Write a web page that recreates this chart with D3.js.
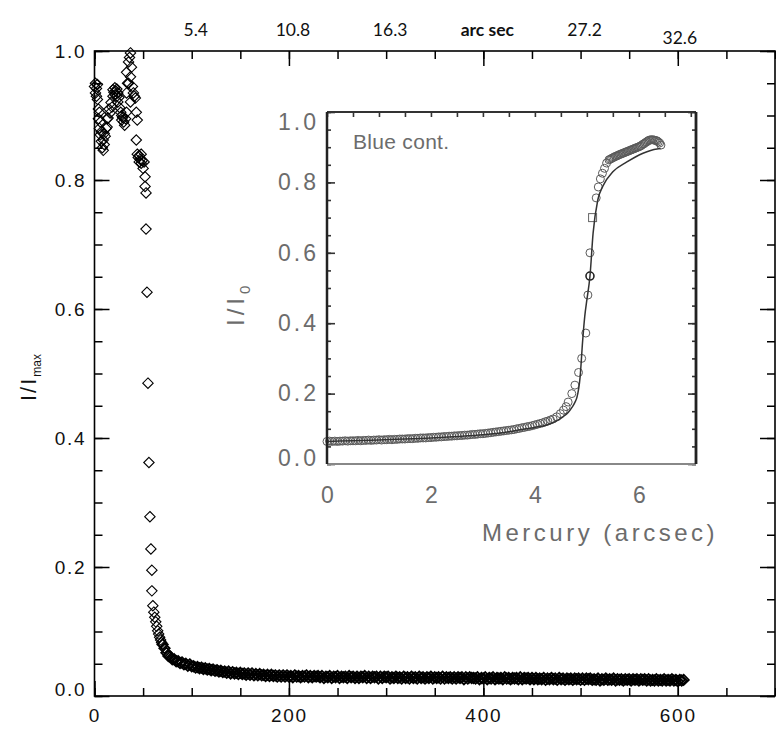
<!DOCTYPE html>
<html>
<head>
<meta charset="utf-8">
<script src="https://cdn.jsdelivr.net/npm/d3@7"></script>
<style>
  body { margin: 0; background: #fff; }
</style>
</head>
<body>
<svg id="chart" width="776" height="734"></svg>
<script>
// ---- main plot data (x in pixels, I/Imax) ----
// scattered disk points + the drop at the limb
var earlyPts = [
  [0,.945],[1,.950],[1,.935],[2,.942],[2,.930],[3,.948],[3,.925],[4,.910],[4,.895],[5,.905],
  [5,.880],[6,.870],[6,.890],[7,.860],[7,.875],[8,.850],[9,.846],[9,.862],[10,.855],[10,.872],
  [11,.868],[12,.880],[13,.882],[13,.895],[14,.896],[15,.910],[16,.904],[17,.920],[18,.913],[19,.930],
  [19,.940],[20,.936],[21,.943],[21,.932],[22,.938],[23,.930],[23,.941],[24,.921],[24,.935],[25,.928],
  [26,.912],[27,.905],[28,.900],[28,.893],[29,.897],[30,.890],[31,.885],[32,.895],[33,.905],[33,.935],
  [33,.967],[34,.950],[35,.983],[35,.950],[36,.990],[37,.997],[37,.960],[37,.921],[38,.975],[39,.945],
  [40,.935],[41,.930],[42,.927],[43,.905],[44,.893],[43,.862],[44,.840],[45,.835],[46,.828],[46,.838],
  [47,.832],[48,.826],[48,.840],[49,.830],[50,.818],[51,.828],[52,.805],[52,.790],[53,.780],
  [53,.724],[54,.626],[55,.485],[56,.362],[57,.278],[58,.228],[59,.195],[59,.163],[60,.140],[61,.130],
  [62,.122],[63,.115],[64,.108],[65,.101],[66,.096],[67,.091],[68,.087],[69,.083]
];
// off-limb tail, one value every 2 pixels starting at pixel 70
var tailStart = 70, tailStep = 2;
var tailI = [
  .080,.074,.067,.062,.061,.057,.057,.054,.054,.051,
  .052,.049,.050,.047,.049,.046,.046,.044,.045,.043,
  .044,.042,.043,.041,.042,.040,.041,.039,.040,.038,
  .039,.037,.038,.036,.038,.035,.037,.035,.036,.034,
  .036,.034,.035,.033,.035,.033,.035,.032,.034,.032,
  .034,.032,.033,.031,.033,.031,.033,.031,.032,.030,
  .032,.030,.032,.030,.032,.030,.031,.029,.032,.030,
  .031,.029,.031,.030,.032,.029,.031,.029,.031,.030,
  .031,.029,.031,.028,.030,.029,.031,.028,.030,.029,
  .031,.028,.030,.029,.030,.028,.031,.029,.030,.028,
  .030,.028,.030,.029,.031,.028,.030,.028,.030,.029,
  .030,.027,.030,.028,.030,.029,.030,.027,.029,.028,
  .030,.028,.029,.027,.030,.028,.029,.027,.030,.028,
  .029,.027,.030,.028,.029,.027,.029,.028,.030,.027,
  .029,.028,.029,.027,.030,.027,.029,.028,.029,.027,
  .029,.027,.029,.028,.029,.026,.029,.027,.029,.028,
  .028,.027,.029,.026,.028,.027,.029,.026,.028,.027,
  .029,.026,.028,.027,.028,.026,.029,.027,.028,.026,
  .028,.027,.028,.026,.029,.026,.028,.027,.028,.026,
  .028,.026,.028,.026,.027,.026,.028,.025,.027,.026,
  .028,.026,.027,.025,.028,.026,.027,.025,.027,.026,
  .027,.025,.027,.026,.027,.025,.027,.025,.027,.026,
  .027,.025,.026,.025,.027,.024,.026,.025,.027,.025,
  .026,.025,.027,.024,.026,.025,.026,.024,.026,.025,
  .026,.024,.026,.025,.026,.024,.026,.025,.026,.024,
  .026,.024,.025,.024,.026,.024,.025,.024,.026,.024,
  .025,.024,.026,.024,.025,.023,.025,.024,.025
];

// top axis (arc seconds) labels
var topTickAt = [100, 200, 300, 400, 500, 600];
var topTickText = ["5.4", "10.8", "16.3", "arc sec", "27.2", "32.6"];

// ---- inset data (Mercury, arcsec vs I/I0) ----
// flat part, one circle every 0.05 arcsec from 0
var flatStart = 0, flatStep = 0.05;
var flatI = [
  .064,.065,.064,.065,.064,.065,.065,.066,.065,.066,
  .066,.066,.067,.066,.067,.067,.068,.067,.068,.068,
  .069,.068,.069,.069,.070,.069,.070,.070,.071,.071,
  .071,.072,.072,.072,.073,.073,.074,.074,.074,.075,
  .075,.076,.076,.077,.077,.078,.078,.079,.079,.080,
  .080,.081,.081,.082,.082,.083,.084,.084,.085,.086,
  .086,.087,.088,.089,.090,.091,.092,.093,.094,.095,
  .096,.097,.098,.100,.101,.103,.104,.106,.107,.109,
  .111,.113,.115,.117,.120,.122,.125,.128
];
var riseX = [4.42,4.49,4.55,4.60,4.64,4.71,4.77,4.84,4.90,4.98,5.02,5.06,5.18,5.22,5.26,5.30,5.34,5.38];
var riseI = [.134,.143,.153,.163,.176,.200,.224,.260,.300,.372,.480,.600,.756,.787,.810,.826,.840,.855];
// near-limb plateau, one circle every 0.025 arcsec from 5.425
var topStart = 5.425, topStep = 0.025;
var topI = [
  .864,.866,.868,.870,.872,.874,.875,.877,.879,.880,
  .882,.883,.885,.886,.888,.889,.891,.892,.894,.895,
  .897,.898,.900,.901,.903,.905,.908,.910,.913,.915,
  .918,.920,.921,.921,.921,.920,.919,.918,.915,.912,
  .906
];
var darkPt = [5.06, .534];
var squarePt = [5.11, .700];

var modelX = [0,0.5,1,1.5,2,2.5,3,3.33,3.71,4.0,4.23,4.4,4.54,4.64,4.71,4.77,4.81,4.87,4.92,4.96,5.0,5.06,5.12,5.21,5.31,5.5,5.77,6.08,6.35,6.42];
var modelI = [.064,.066,.068,.071,.074,.078,.083,.088,.097,.104,.111,.121,.134,.146,.160,.175,.190,.247,.352,.420,.466,.534,.656,.750,.790,.830,.858,.883,.895,.896];

// ---- main plot ----
var svg = d3.select("#chart");
var mainFont = "'Liberation Sans', Arial, sans-serif";

var x = d3.scaleLinear().domain([0, 700]).range([94.5, 775]);
var y = d3.scaleLinear().domain([0, 1]).range([696, 51]);

// diamond shape for psym=4
function diamond(s) {
  return "M0," + (-s) + "L" + s + ",0L0," + s + "L" + (-s) + ",0Z";
}

var tailPts = tailI.map(function(v, i) { return [tailStart + i * tailStep, v]; });

function drawDiamonds(pts, sw) {
  svg.append("g")
    .selectAll("path")
    .data(pts)
    .enter().append("path")
      .attr("d", diamond(5.2))
      .attr("transform", function(d) { return "translate(" + x(d[0]) + "," + y(d[1]) + ")"; })
      .attr("fill", "none")
      .attr("stroke", "#000")
      .attr("stroke-width", sw);
}
drawDiamonds(earlyPts, 1.1);
drawDiamonds(tailPts, 1.8);

// axes helper: ticks only, no domain path
function tickAxis(axis, tx, ty) {
  var g = svg.append("g").attr("transform", "translate(" + tx + "," + ty + ")").call(axis);
  g.select(".domain").remove();
  g.selectAll("line").attr("stroke", "#000").attr("stroke-width", 1.5);
  g.attr("font-family", mainFont).attr("font-size", 19);
  g.selectAll("text").attr("fill", "#111").style("letter-spacing", "1.8px");
  return g;
}

var minorX = d3.range(0, 701, 50), majorX = [0, 200, 400, 600];
var minorY = d3.range(0, 1.0001, 0.05), majorY = [0, 0.2, 0.4, 0.6, 0.8, 1.0];

tickAxis(d3.axisBottom(x).tickValues(minorX).tickSize(-8).tickFormat(""), 0, y(0));
tickAxis(d3.axisBottom(x).tickValues(majorX).tickSize(-15).tickPadding(13).tickFormat(d3.format("d")), 0, y(0));
tickAxis(d3.axisTop(x).tickValues(minorX).tickSize(-8).tickFormat(""), 0, y(1));
tickAxis(d3.axisTop(x).tickValues(majorX).tickSize(-15).tickFormat(""), 0, y(1));
tickAxis(d3.axisLeft(y).tickValues(minorY).tickSize(-8).tickFormat(""), x(0), 0);
var leftMajor = tickAxis(d3.axisLeft(y).tickValues(majorY).tickSize(-15).tickPadding(8).tickFormat(d3.format(".1f")), x(0), 0);
leftMajor.selectAll("text").filter(function(d) { return d === 0; }).attr("dy", "-0.05em");
tickAxis(d3.axisRight(y).tickValues(minorY).tickSize(-8).tickFormat(""), x(700), 0);
tickAxis(d3.axisRight(y).tickValues(majorY).tickSize(-15).tickFormat(""), x(700), 0);

// frame
svg.append("rect")
  .attr("x", x(0)).attr("y", y(1))
  .attr("width", x(700) - x(0)).attr("height", y(0) - y(1))
  .attr("fill", "none").attr("stroke", "#000").attr("stroke-width", 1.6);

// top labels in arc seconds
topTickAt.forEach(function(v, i) {
  var last = i === topTickAt.length - 1;
  svg.append("text")
    .attr("x", x(v) + (last ? 2 : 4))
    .attr("y", last ? 44 : 36)
    .attr("text-anchor", "middle")
    .attr("font-family", "Lato, 'Open Sans', sans-serif")
    .attr("font-size", 17.5)
    .attr("font-weight", v === 400 ? "bold" : "normal")
    .attr("fill", "#111")
    .text(topTickText[i]);
});

// y title I/Imax
var yTitle = svg.append("text")
  .attr("transform", "translate(36,401) rotate(-90)")
  .attr("font-family", mainFont)
  .attr("font-size", 22)
  .attr("fill", "#111")
  .style("letter-spacing", "2px");
yTitle.append("tspan").text("I/I");
yTitle.append("tspan").attr("font-size", 12).attr("dy", 5).style("letter-spacing", "0px").text("max");

// ---- inset ----
var insetFont = "'Liberation Sans', Arial, sans-serif";
var insetGrey = "#6c6c6c";
var ix = d3.scaleLinear().domain([0, 7.1]).range([327, 696]);
var iy = d3.scaleLinear().domain([0, 1]).range([464, 112]);

var inset = svg.append("g");
inset.append("rect")
  .attr("x", ix(0)).attr("y", iy(1))
  .attr("width", ix(7.1) - ix(0)).attr("height", iy(0) - iy(1))
  .attr("fill", "#fff");

var circPts = [];
flatI.forEach(function(v, i) { circPts.push([flatStart + i * flatStep, v]); });
riseX.forEach(function(v, i) { circPts.push([v, riseI[i]]); });
topI.forEach(function(v, i) { circPts.push([topStart + i * topStep, v]); });

inset.append("g")
  .selectAll("circle")
  .data(circPts)
  .enter().append("circle")
    .attr("cx", function(d) { return ix(d[0]); })
    .attr("cy", function(d) { return iy(d[1]); })
    .attr("r", 4)
    .attr("fill", "none")
    .attr("stroke", "#5a5a5a")
    .attr("stroke-width", 1);

inset.append("circle")
  .attr("cx", ix(darkPt[0])).attr("cy", iy(darkPt[1])).attr("r", 4)
  .attr("fill", "none").attr("stroke", "#222").attr("stroke-width", 1.6);

inset.append("rect")
  .attr("x", ix(squarePt[0]) - 4).attr("y", iy(squarePt[1]) - 4)
  .attr("width", 8).attr("height", 8)
  .attr("fill", "none").attr("stroke", "#666").attr("stroke-width", 1);

var modelLine = d3.line()
  .x(function(d) { return ix(d); })
  .y(function(d, i) { return iy(modelI[i]); })
  .curve(d3.curveMonotoneX);

inset.append("path")
  .attr("d", modelLine(modelX))
  .attr("fill", "none")
  .attr("stroke", "#333")
  .attr("stroke-width", 1.5);

function insetAxis(axis, tx, ty) {
  var g = inset.append("g").attr("transform", "translate(" + tx + "," + ty + ")").call(axis);
  g.select(".domain").remove();
  g.selectAll("line").attr("stroke", "#333").attr("stroke-width", 1.6);
  g.attr("font-family", insetFont).attr("font-size", 23);
  g.selectAll("text").attr("fill", insetGrey).style("letter-spacing", "3px");
  return g;
}

var iMinorY = d3.range(0, 1.0001, 0.05), iMajorY = [0, 0.2, 0.4, 0.6, 0.8, 1.0];
insetAxis(d3.axisLeft(iy).tickValues(iMinorY).tickSize(-4).tickFormat(""), ix(0), 0);
insetAxis(d3.axisLeft(iy).tickValues(iMajorY).tickSize(-8).tickFormat(""), ix(0), 0);
insetAxis(d3.axisRight(iy).tickValues(iMinorY).tickSize(-4).tickFormat(""), ix(7.1), 0);
insetAxis(d3.axisRight(iy).tickValues(iMajorY).tickSize(-8).tickFormat(""), ix(7.1), 0);
insetAxis(d3.axisTop(ix).tickValues(d3.range(0, 7.01, 0.5)).tickSize(-5).tickFormat(""), 0, iy(1));

var iyLabels = insetAxis(d3.axisLeft(iy).tickValues(iMajorY).tickSize(0).tickPadding(8).tickFormat(d3.format(".1f")), ix(0), 0);
iyLabels.selectAll("line").remove();
iyLabels.selectAll("text")
  .attr("dy", function(d) { return d === 1 ? "0.75em" : (d === 0 ? "0.05em" : "0.32em"); });

var ixLabels = insetAxis(d3.axisBottom(ix).tickValues([0, 2, 4, 6]).tickSize(0).tickPadding(23).tickFormat(d3.format("d")), 0, iy(0));
ixLabels.selectAll("line").remove();
ixLabels.selectAll("text").style("letter-spacing", "0px");

// inset frame
inset.append("line").attr("x1", ix(0)).attr("x2", ix(7.1)).attr("y1", iy(1)).attr("y2", iy(1))
  .attr("stroke", "#333").attr("stroke-width", 2);
inset.append("line").attr("x1", ix(0)).attr("x2", ix(7.1)).attr("y1", iy(0)).attr("y2", iy(0))
  .attr("stroke", "#888").attr("stroke-width", 1.8);
inset.append("line").attr("x1", ix(0)).attr("x2", ix(0)).attr("y1", iy(1)).attr("y2", iy(0))
  .attr("stroke", "#222").attr("stroke-width", 2.5);
inset.append("line").attr("x1", ix(7.1)).attr("x2", ix(7.1)).attr("y1", iy(1)).attr("y2", iy(0))
  .attr("stroke", "#222").attr("stroke-width", 2.8);

// inset texts
inset.append("text")
  .attr("x", 353).attr("y", 149)
  .attr("font-family", insetFont).attr("font-size", 21)
  .attr("fill", insetGrey).style("letter-spacing", "0.3px")
  .text("Blue cont.");

inset.append("text")
  .attr("x", 600).attr("y", 541)
  .attr("text-anchor", "middle")
  .attr("font-family", insetFont).attr("font-size", 24)
  .attr("fill", insetGrey).style("letter-spacing", "3.5px")
  .text("Mercury (arcsec)");

var iyTitle = inset.append("text")
  .attr("transform", "translate(244,326) rotate(-90)")
  .attr("font-family", insetFont).attr("font-size", 24)
  .attr("fill", insetGrey).style("letter-spacing", "4px");
iyTitle.append("tspan").text("I/I");
iyTitle.append("tspan").attr("font-size", 15).attr("dy", 6).text("0");
</script>
</body>
</html>
